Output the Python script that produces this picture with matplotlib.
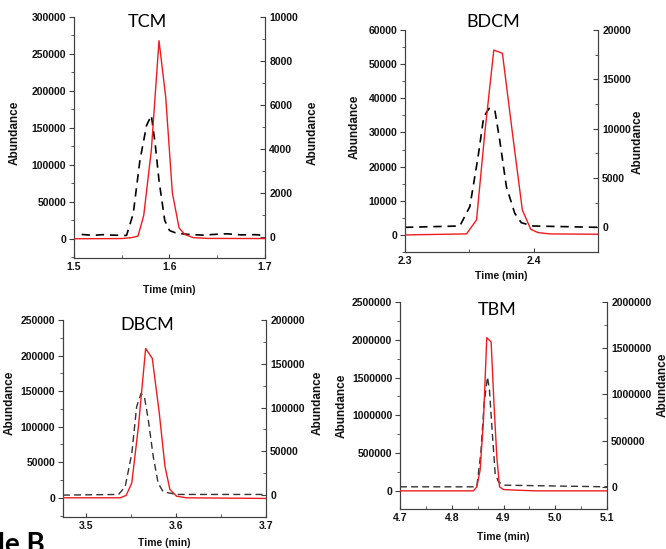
import numpy as np
import matplotlib
matplotlib.use('Agg')
import matplotlib.pyplot as plt
from matplotlib.ticker import MultipleLocator, FormatStrFormatter

plt.rcParams['font.family'] = ['Liberation Sans', 'DejaVu Sans']

# TCM
tcm_t_red = [1.500, 1.550, 1.560, 1.567, 1.573, 1.581, 1.589, 1.596, 1.603, 1.610, 1.616, 1.625, 1.640, 1.700]
tcm_red = [0, 300, 1500, 3600, 31400, 120000, 268000, 192000, 62000, 14800, 5800, 1500, 500, 300]
tcm_t_blk = [1.508, 1.520, 1.530, 1.540, 1.555, 1.562, 1.569, 1.576, 1.581, 1.585, 1.589, 1.595, 1.600,
             1.607, 1.620, 1.635, 1.650, 1.660, 1.675, 1.690, 1.700]
tcm_blk = [120, 80, 110, 90, 75, 1060, 3480, 5075, 5530, 4240, 2576, 757, 300,
           180, 120, 90, 130, 150, 100, 110, 75]

# BDCM
bdcm_t_red = [2.300, 2.3478, 2.3556, 2.362, 2.369, 2.3757, 2.3835, 2.3912, 2.3977, 2.4034, 2.4124, 2.450]
bdcm_red = [0, 300, 4400, 29800, 54100, 53200, 29800, 7300, 1660, 680, 300, 200]
bdcm_t_blk = [2.300, 2.3426, 2.3504, 2.3568, 2.3612, 2.3654, 2.3698, 2.3736, 2.3788, 2.3853, 2.3904, 2.3995, 2.450]
bdcm_blk = [0, 135, 2100, 7160, 11200, 12060, 11900, 8850, 4120, 1420, 470, 135, 0]

# DBCM
dbcm_t_red = [3.474, 3.5376, 3.5443, 3.5506, 3.558, 3.566, 3.5734, 3.5812, 3.5875, 3.593, 3.6004, 3.611, 3.700]
dbcm_red = [0, 0, 3300, 21000, 100500, 210000, 196000, 119000, 44400, 11700, 2300, 0, -900]
dbcm_t_blk = [3.474, 3.5358, 3.5432, 3.5506, 3.556, 3.5609, 3.5646, 3.569, 3.5745, 3.580, 3.5856, 3.6004, 3.700]
dbcm_blk = [0, 760, 9500, 47600, 101000, 116200, 112400, 85700, 43800, 13300, 3800, 760, 760]

# TBM
tbm_t_red = [4.700, 4.8419, 4.8484, 4.8548, 4.8613, 4.8677, 4.8761, 4.8819, 4.8871, 4.8923, 4.900, 4.9258, 4.9645, 5.100]
tbm_red = [0, 0, 53000, 273000, 935000, 2028000, 1971000, 1111000, 450000, 53000, 17600, 8800, 0, 0]
tbm_t_blk = [4.700, 4.8484, 4.8561, 4.8626, 4.869, 4.8729, 4.878, 4.8839, 4.8903, 4.900, 5.100]
tbm_blk = [0, 0, 360000, 901000, 1189000, 1045000, 613000, 144000, 54000, 18000, 0]

W, H = 666, 549
fig = plt.figure(figsize=(W / 100, H / 100), dpi=100)

spine_col = '#404040'
red = '#ee1c1c'
tick_fs = 7.5


def panel(box, xlim, xstep, ylim1, ystep1, ylim2, ystep2,
          t_red, v_red, t_blk, v_blk, title, title_xy, lab, dash_style):
    l, r, t, b = box
    ax = fig.add_axes([l / W, 1 - b / H, (r - l) / W, (b - t) / H])
    ax2 = ax.twinx()
    ax2.set_position(ax.get_position())
    ax.plot(t_red, v_red, color=red, lw=1.0, zorder=3)
    dcol, dlw, dsh = dash_style
    ax2.plot(t_blk, v_blk, color=dcol, lw=dlw, dashes=dsh)
    ax.set_zorder(ax2.get_zorder() + 1)
    ax.patch.set_visible(False)
    ax.set_xlim(*xlim)
    ax.set_ylim(*ylim1)
    ax2.set_ylim(*ylim2)
    ax.xaxis.set_major_locator(MultipleLocator(xstep))
    ax.xaxis.set_minor_locator(MultipleLocator(xstep / 2))
    ax.xaxis.set_major_formatter(FormatStrFormatter('%.1f'))
    ax.yaxis.set_major_locator(MultipleLocator(ystep1))
    ax.yaxis.set_minor_locator(MultipleLocator(ystep1 / 2))
    ax.yaxis.set_major_formatter(FormatStrFormatter('%d'))
    ax2.yaxis.set_major_locator(MultipleLocator(ystep2))
    ax2.yaxis.set_minor_locator(MultipleLocator(ystep2 / 2))
    ax2.yaxis.set_major_formatter(FormatStrFormatter('%d'))
    for a in (ax, ax2):
        a.spines['top'].set_visible(False)
        for s in a.spines.values():
            s.set_color(spine_col)
            s.set_linewidth(0.8)
    ax.tick_params(axis='x', which='both', direction='in', colors=spine_col,
                   labelcolor='#111111', labelsize=tick_fs, pad=3)
    ax.tick_params(axis='x', which='major', length=3)
    ax.tick_params(axis='x', which='minor', length=2)
    ax.tick_params(axis='y', which='major', direction='out', length=3.5, colors=spine_col,
                   labelcolor='#111111', labelsize=tick_fs, pad=2)
    ax.tick_params(axis='y', which='minor', direction='out', length=2, colors=spine_col)
    ax2.tick_params(axis='y', which='major', direction='in', length=3.5, colors=spine_col,
                    labelcolor='#111111', labelsize=tick_fs, pad=3)
    ax2.tick_params(axis='y', which='minor', direction='in', length=2, colors=spine_col)
    for lbl in ax.get_xticklabels() + ax.get_yticklabels() + ax2.get_yticklabels():
        lbl.set_fontweight('bold')
    ax.set_xlabel('Time (min)', fontsize=7.5, fontweight='bold', color='#111111')
    ax.set_ylabel('Abundance', fontsize=8.5, fontweight='bold', color='#111111')
    ax2.set_ylabel('Abundance', fontsize=8.5, fontweight='bold', color='#111111')
    xl, yl1, yl2 = lab
    ax.xaxis.set_label_coords(0.5, xl)
    ax.xaxis.label.set_va('center')
    ax.yaxis.set_label_coords(yl1[0], yl1[1])
    ax.yaxis.label.set_va('center')
    ax2.yaxis.set_label_coords(yl2[0], yl2[1])
    ax2.yaxis.label.set_va('center')
    fig.text(title_xy[0] / W, 1 - title_xy[1] / H, title, fontsize=13,
             family=['Lato', 'DejaVu Sans'], ha='center', va='center')
    return ax, ax2


heavy = ('black', 1.2, (5, 3.5))
light = ('#333333', 1.0, (5, 3))

panel((74, 265, 17, 258), (1.5, 1.7), 0.1, (-26000, 300000), 50000, (-950, 10000), 2000,
      tcm_t_red, tcm_red, tcm_t_blk, tcm_blk, 'TCM', (147, 22),
      (-0.133, (-0.309, 0.519), (1.251, 0.519)), heavy)
panel((405, 598, 30, 252), (2.3, 2.45), 0.1, (-5000, 60000), 10000, (-2500, 20000), 5000,
      bdcm_t_red, bdcm_red, bdcm_t_blk, bdcm_blk, 'BDCM', (493, 22),
      (-0.108, (-0.259, 0.563), (1.207, 0.495)), heavy)
panel((63, 266, 320, 517), (3.474, 3.7), 0.1, (-27000, 250000), 50000, (-25000, 200000), 50000,
      dbcm_t_red, dbcm_red, dbcm_t_blk, dbcm_blk, 'DBCM', (147, 325),
      (-0.132, (-0.261, 0.579), (1.256, 0.579)), light)
panel((400, 607, 302, 509), (4.7, 5.1), 0.1, (-240000, 2500000), 500000, (-240000, 2000000), 500000,
      tbm_t_red, tbm_red, tbm_t_blk, tbm_blk, 'TBM', (497, 310),
      (-0.135, (-0.28, 0.50), (1.27, 0.60)), light)

fig.text(-2 / W, -4 / H, 'le B', fontsize=20, fontweight='bold',
         family=['Lato', 'DejaVu Sans'], ha='left', va='baseline')

fig.savefig('out.png', dpi=100)
